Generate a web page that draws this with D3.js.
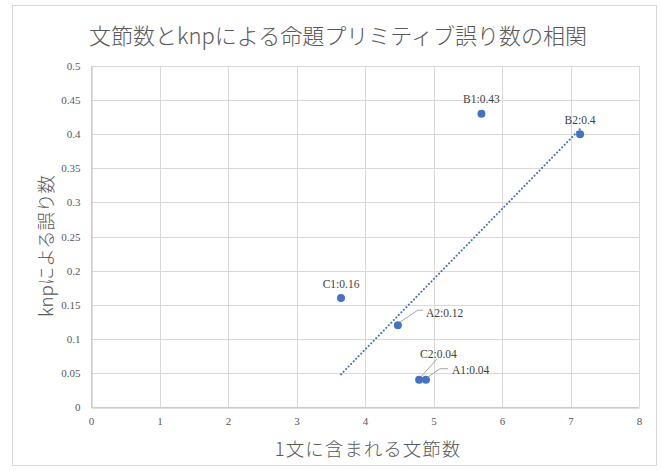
<!DOCTYPE html>
<html>
<head>
<meta charset="utf-8">
<script src="https://cdn.jsdelivr.net/npm/d3@7/dist/d3.min.js"></script>
<style>
  html, body { margin: 0; padding: 0; background: #fff; }
  svg { display: block; }
</style>
</head>
<body>
<svg id="chart" width="662" height="471"></svg>
<script>
// Sentence chunk counts and knp proposition-primitive error counts
const names = ["C1", "A2", "C2", "A1", "B1", "B2"];
const chunks = [3.65, 4.48, 4.79, 4.89, 5.70, 7.14];
const errors = [0.16, 0.12, 0.04, 0.04, 0.43, 0.40];
const xTicks = [0, 1, 2, 3, 4, 5, 6, 7, 8];
const yTicks = [0, 0.05, 0.1, 0.15, 0.2, 0.25, 0.3, 0.35, 0.4, 0.45, 0.5];

const svg = d3.select("#chart");
const plot = { left: 91, right: 639, top: 66, bottom: 407 };

// Outer chart frame
svg.append("rect")
  .attr("x", 12.5).attr("y", 5.5).attr("width", 644).attr("height", 460)
  .attr("fill", "#fff").attr("stroke", "#d9d9d9");

const x = d3.scaleLinear().domain([0, 8]).range([plot.left, plot.right]);
const y = d3.scaleLinear().domain([0, 0.5]).range([plot.bottom, plot.top]);

// Gridlines
const grid = svg.append("g");
grid.selectAll(".gx").data(xTicks).join("line")
  .attr("x1", d => Math.round(x(d)) + 0.5).attr("x2", d => Math.round(x(d)) + 0.5)
  .attr("y1", plot.top).attr("y2", plot.bottom)
  .attr("stroke", "#d9d9d9").attr("stroke-width", 1);
grid.selectAll(".gy").data(yTicks).join("line")
  .attr("x1", plot.left).attr("x2", plot.right)
  .attr("y1", d => Math.round(y(d)) + 0.5).attr("y2", d => Math.round(y(d)) + 0.5)
  .attr("stroke", "#d9d9d9").attr("stroke-width", 1);

// Axes (value axes with no tick marks)
const fmt = d => String(+d.toFixed(2));
const xAxis = svg.append("g")
  .attr("transform", `translate(0,${Math.round(y(0)) + 0.5})`)
  .call(d3.axisBottom(x).tickValues(xTicks).tickFormat(fmt).tickSize(0).tickPadding(10));
const yAxis = svg.append("g")
  .attr("transform", `translate(${Math.round(x(0)) + 0.5},0)`)
  .call(d3.axisLeft(y).tickValues(yTicks).tickFormat(fmt).tickSize(0).tickPadding(11));
[xAxis, yAxis].forEach(a => {
  a.select(".domain").attr("stroke", "#bfbfbf");
  a.selectAll("text")
    .attr("fill", "#595959")
    .style("font-family", "'Liberation Serif', 'Times New Roman', serif")
    .style("font-size", "11px");
});

// Linear trendline (least squares), spanning the data's x range
const n = chunks.length;
const mx = d3.mean(chunks), my = d3.mean(errors);
let sxy = 0, sxx = 0;
for (let i = 0; i < n; i++) {
  sxy += (chunks[i] - mx) * (errors[i] - my);
  sxx += (chunks[i] - mx) ** 2;
}
const slope = sxy / sxx, icpt = my - slope * mx;
const [x0, x1] = d3.extent(chunks);
svg.append("line")
  .attr("x1", x(x0)).attr("y1", y(icpt + slope * x0))
  .attr("x2", x(x1)).attr("y2", y(icpt + slope * x1))
  .attr("stroke", "#4472c4").attr("stroke-width", 2)
  .attr("stroke-dasharray", "0.1 3.5").attr("stroke-linecap", "round");

// Points
const pts = names.map((nm, i) => ({ nm, x: chunks[i], y: errors[i] }));
svg.append("g").selectAll("circle").data(pts).join("circle")
  .attr("cx", d => x(d.x)).attr("cy", d => y(d.y)).attr("r", 4)
  .attr("fill", "#4472c4");

// Data labels: offsets are [dx, dy] from the point; leader lines for crowded ones
const labelPos = {
  C1: { dx: 0, dy: -13, anchor: "middle" },
  B1: { dx: 0, dy: -13, anchor: "middle" },
  B2: { dx: 0, dy: -13, anchor: "middle" },
  A2: { dx: 28, dy: -11, anchor: "start", leader: [[2, -3], [20, -15], [25, -15]] },
  C2: { dx: 1, dy: -24, anchor: "start", leader: [[2, -3], [18, -21]] },
  A1: { dx: 26, dy: -8, anchor: "start", leader: [[1, -2], [14, -11], [22, -11]] }
};
const lab = svg.append("g");
pts.forEach(p => {
  const L = labelPos[p.nm];
  const px = x(p.x), py = y(p.y);
  if (L.leader) {
    lab.append("path")
      .attr("d", d3.line()(L.leader.map(([a, b]) => [px + a, py + b])))
      .attr("fill", "none").attr("stroke", "#a6a6a6").attr("stroke-width", 1);
  }
  lab.append("text")
    .attr("x", px + L.dx).attr("y", py + L.dy)
    .attr("text-anchor", L.anchor).attr("dominant-baseline", "middle")
    .attr("fill", "#404040")
    .style("font-family", "'Liberation Serif', 'Times New Roman', serif")
    .style("font-size", "11.5px")
    .text(`${p.nm}:${p.y}`);
});

// Titles
const jp = "'Noto Sans CJK JP', 'Noto Sans', sans-serif";
svg.append("text")
  .attr("x", 338).attr("y", 34).attr("text-anchor", "middle")
  .attr("dominant-baseline", "central")
  .attr("fill", "#595959").style("font-family", jp).style("font-size", "22px")
  .style("font-weight", 300)
  .text("文節数とknpによる命題プリミティブ誤り数の相関");
svg.append("text")
  .attr("x", 368).attr("y", 448).attr("text-anchor", "middle")
  .attr("dominant-baseline", "central").attr("letter-spacing", "1")
  .attr("fill", "#595959").style("font-family", jp).style("font-size", "18.5px")
  .style("font-weight", 300)
  .text("1文に含まれる文節数");
svg.append("text")
  .attr("transform", `translate(44.5,246) rotate(-90)`)
  .attr("text-anchor", "middle").attr("dominant-baseline", "central")
  .attr("fill", "#595959").style("font-family", jp).style("font-size", "18.5px")
  .style("font-weight", 300)
  .text("knpによる誤り数");
</script>
</body>
</html>
